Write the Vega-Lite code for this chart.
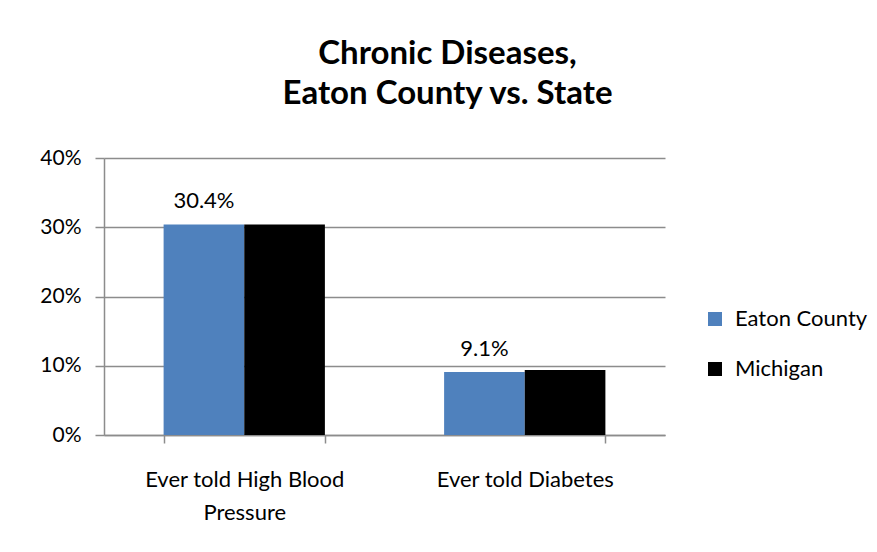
{
  "$schema": "https://vega.github.io/schema/vega-lite/v6.json",
  "autosize": {"type": "none"},
  "padding": {"left": 104, "top": 158, "right": 212, "bottom": 117},
  "width": 561,
  "height": 277,
  "background": "white",
  "title": {
    "text": ["Chronic Diseases,", "Eaton County vs. State"],
    "font": "Lato",
    "fontSize": 33,
    "fontWeight": "bold",
    "color": "#000000",
    "lineHeight": 40,
    "anchor": "middle",
    "frame": "group",
    "dx": 63,
    "offset": 36
  },
  "data": {
    "values": [
      {"measure": "Ever told High Blood Pressure", "area": "Eaton County", "pct": 0.304},
      {"measure": "Ever told High Blood Pressure", "area": "Michigan", "pct": 0.304},
      {"measure": "Ever told Diabetes", "area": "Eaton County", "pct": 0.091},
      {"measure": "Ever told Diabetes", "area": "Michigan", "pct": 0.094}
    ]
  },
  "encoding": {
    "x": {
      "field": "measure",
      "type": "nominal",
      "sort": null,
      "title": null,
      "scale": {"paddingInner": 0.425, "paddingOuter": 0.2125},
      "axis": {
        "labelAngle": 0,
        "labelFont": "Lato",
        "labelFontSize": 22,
        "labelColor": "#000000",
        "labelPadding": 26,
        "labelLineHeight": 33,
        "labelLimit": 0,
        "labelExpr": "datum.label == 'Ever told High Blood Pressure' ? ['Ever told High  Blood', 'Pressure'] : datum.label",
        "domainColor": "#8c8c8c",
        "domainWidth": 1.5,
        "tickColor": "#8c8c8c",
        "tickWidth": 1.5,
        "tickSize": 8,
        "tickBand": "extent",
        "grid": false
      }
    },
    "xOffset": {"field": "area", "type": "nominal", "sort": ["Eaton County", "Michigan"]},
    "y": {
      "field": "pct",
      "type": "quantitative",
      "title": null,
      "scale": {"domain": [0, 0.4]},
      "axis": {
        "values": [0, 0.1, 0.2, 0.3, 0.4],
        "format": ".0%",
        "labelFont": "Lato",
        "labelFontSize": 21,
        "labelColor": "#000000",
        "labelPadding": 14,
        "domainColor": "#8c8c8c",
        "domainWidth": 1.5,
        "tickColor": "#8c8c8c",
        "tickWidth": 1.5,
        "tickSize": 9,
        "gridColor": "#8c8c8c",
        "gridWidth": 1.5
      }
    }
  },
  "layer": [
    {
      "mark": {"type": "bar"},
      "encoding": {
        "color": {
          "field": "area",
          "type": "nominal",
          "sort": ["Eaton County", "Michigan"],
          "scale": {"domain": ["Eaton County", "Michigan"], "range": ["#4f81bd", "#000000"]},
          "legend": {
            "title": null,
            "orient": "none",
            "legendX": 600,
            "legendY": 150,
            "padding": 0,
            "symbolType": "square",
            "symbolSize": 196,
            "symbolStrokeWidth": 0,
            "labelFont": "Lato",
            "labelFontSize": 22,
            "labelColor": "#000000",
            "labelOffset": 9,
            "rowPadding": 28
          }
        }
      }
    },
    {
      "transform": [{"filter": "datum.area == 'Eaton County'"}],
      "mark": {"type": "text", "font": "Lato", "fontSize": 22, "color": "#000000", "baseline": "middle", "dy": -23},
      "encoding": {
        "text": {"field": "pct", "type": "quantitative", "format": ".1%"}
      }
    }
  ],
  "config": {
    "view": {"stroke": null}
  }
}
